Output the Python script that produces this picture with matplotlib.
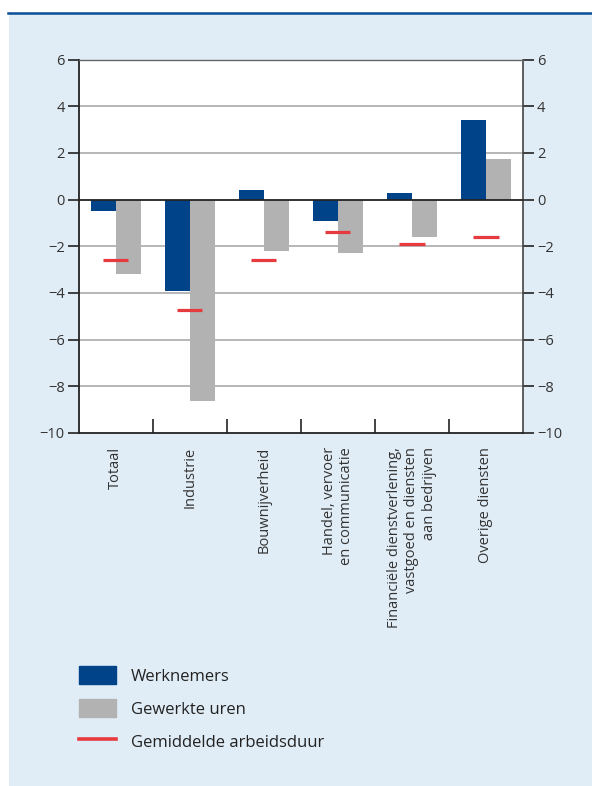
import matplotlib
matplotlib.use('Agg')
import matplotlib.pyplot as plt
from matplotlib.patches import Rectangle, Patch
from matplotlib.lines import Line2D
import numpy as np

plt.rcParams['font.family'] = ['Open Sans', 'DejaVu Sans']

categories = ['Totaal', 'Industrie', 'Bouwnijverheid',
              'Handel, vervoer\nen communicatie',
              'Financiële dienstverlening,\nvastgoed en diensten\naan bedrijven',
              'Overige diensten']
werknemers = [-0.5, -3.9, 0.4, -0.9, 0.3, 3.4]
gewerkte_uren = [-3.2, -8.65, -2.2, -2.3, -1.6, 1.75]
arbeidsduur = [-2.6, -4.75, -2.6, -1.4, -1.9, -1.6]
yticks = [-10, -8, -6, -4, -2, 0, 2, 4, 6]

blue = '#004388'
grey = '#b2b2b2'
red = '#e63a3f'
bg = '#e1edf6'
txt = '#333333'

W, H = 592, 786
fig = plt.figure(figsize=(W / 100, H / 100), dpi=100, facecolor='white')

# light blue panel with dark blue line on top
fig.patches.append(Rectangle((9 / W, 0), 1 - 9 / W, 1 - 13 / H, transform=fig.transFigure,
                             facecolor=bg, edgecolor='none', zorder=-5))
fig.add_artist(Line2D([8 / W, 1], [1 - 12.5 / H, 1 - 12.5 / H], transform=fig.transFigure,
                      color='#0b4f97', lw=1.8, zorder=-4))

ax = fig.add_axes([78.7 / W, 1 - 433 / H, (523 - 78.7) / W, (433 - 59.5) / H])
ax.set_zorder(2)
ax.set_facecolor('white')

x = np.arange(len(categories))
bw = 0.34
ax.bar(x - bw / 2, werknemers, bw, color=blue, zorder=3, label='Werknemers')
ax.bar(x + bw / 2, gewerkte_uren, bw, color=grey, zorder=3, label='Gewerkte uren')
ax.hlines(arbeidsduur, x - bw / 2, x + bw / 2, color=red, lw=2.3, zorder=4,
          label='Gemiddelde arbeidsduur')

ax.set_xlim(-0.5, len(categories) - 0.5)
ax.set_ylim(-10, 6)
ax.set_yticks(yticks)
ax.set_yticklabels(['\u2212' + str(-v) if v < 0 else str(v) for v in yticks])
for v in yticks[1:-1]:
    if v != 0:
        ax.axhline(v, color='#aaaaaa', lw=1.2, zorder=1)
ax.axhline(0, color='#222222', lw=1.3, zorder=5)

ax.tick_params(axis='y', which='both', direction='out', length=8, width=1.2,
               color='#222222', labelcolor=txt, labelsize=10.5, pad=2,
               left=True, right=True, labelleft=True, labelright=True)

ax.set_xticks(x)
ax.set_xticklabels(categories, rotation=90, ha='center', va='top', ma='right',
                   fontsize=10.5, color=txt)
ax.set_xticks(np.arange(0.5, len(categories) - 0.5), minor=True)
ax.tick_params(axis='x', which='major', length=0, pad=10)
ax.tick_params(axis='x', which='minor', direction='in', length=10, width=1.2, color='#222222')

for s in ['left', 'bottom']:
    ax.spines[s].set_color('#222222')
    ax.spines[s].set_linewidth(1.3)
ax.spines['right'].set_color('#444444')
ax.spines['right'].set_linewidth(1.2)
ax.spines['top'].set_color('#666666')
ax.spines['top'].set_linewidth(1.0)

handles = [Patch(color=blue), Patch(color=grey), Line2D([], [], color=red, lw=2.6)]
labels = ['Werknemers', 'Gewerkte uren', 'Gemiddelde arbeidsduur']
fig.legend(handles, labels, loc='upper left', bbox_to_anchor=(64 / W, 1 - 651 / H),
           frameon=False, fontsize=12, handlelength=2.2, handleheight=1.3,
           labelspacing=0.86, handletextpad=0.9, labelcolor='#222222')

fig.savefig('out.png', dpi=100, facecolor='white')
